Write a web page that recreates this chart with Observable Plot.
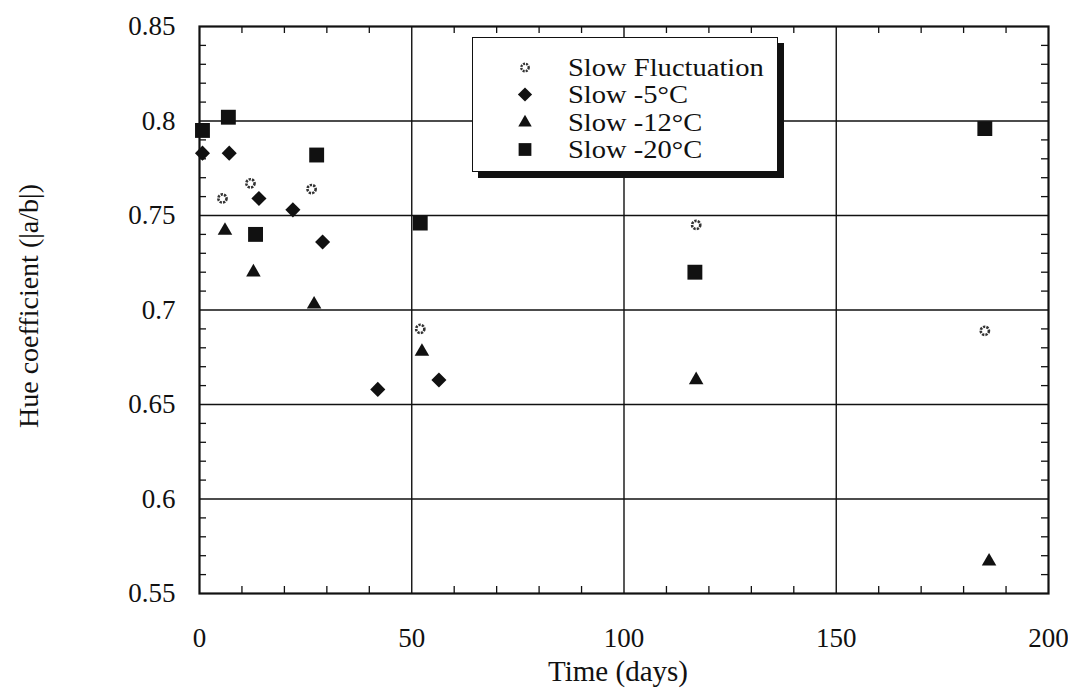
<!DOCTYPE html>
<html>
<head>
<meta charset="utf-8">
<script src="https://cdn.jsdelivr.net/npm/d3@7"></script>
<script src="https://cdn.jsdelivr.net/npm/@observablehq/plot@0.6"></script>
<style>
  html, body { margin: 0; padding: 0; background: #fff; }
  #wrap { position: relative; width: 1068px; height: 693px; overflow: hidden; }
  #legend {
    position: absolute; left: 472px; top: 37px; width: 304px; height: 133px;
    background: #fff; border: 1.5px solid #111; box-shadow: 6px 6px 0 #111;
    font-family: 'Liberation Serif', 'Times New Roman', serif; font-size: 24.4px; color: #111;
  }
  .row { position: absolute; left: 0; height: 27px; white-space: nowrap; }
  .row svg { position: absolute; left: 38px; top: 0; }
  .row span { position: absolute; display: block; left: 95px; top: 0; height: 27px; line-height: 27px;
              transform: scaleX(1.17); transform-origin: 0 50%; }
</style>
</head>
<body>
<div id="wrap"><div id="legend"></div></div>
<script>
// ---- data ----
const seriesNames = ["Slow Fluctuation", "Slow -5°C", "Slow -12°C", "Slow -20°C"];

const fluctDays = [5.4, 12, 26.4, 52, 117, 185];
const fluctHue  = [0.759, 0.767, 0.764, 0.690, 0.745, 0.689];

const m5Days = [0.7, 7, 14, 22, 29, 42, 56.4];
const m5Hue  = [0.783, 0.783, 0.759, 0.753, 0.736, 0.658, 0.663];

const m12Days = [6, 12.7, 27, 52.4, 117, 186];
const m12Hue  = [0.742, 0.720, 0.703, 0.678, 0.663, 0.567];

const m20Days = [0.7, 6.8, 13.2, 27.6, 52, 116.7, 185];
const m20Hue  = [0.795, 0.802, 0.740, 0.782, 0.746, 0.720, 0.796];

const xTicks = [0, 50, 100, 150, 200];
const xTickLabels = ["0", "50", "100", "150", "200"];
const yTicks = [0.55, 0.6, 0.65, 0.7, 0.75, 0.8, 0.85];
const yTickLabels = ["0.55", "0.6", "0.65", "0.7", "0.75", "0.8", "0.85"];
const xGrid = [50, 100, 150];
const yGrid = [0.6, 0.65, 0.7, 0.75, 0.8];
const xMinor = [10, 20, 30, 40, 60, 70, 80, 90, 110, 120, 130, 140, 160, 170, 180, 190];
const yMinor = [0.56, 0.57, 0.58, 0.59, 0.61, 0.62, 0.63, 0.64, 0.66, 0.67, 0.68, 0.69,
                0.71, 0.72, 0.73, 0.74, 0.76, 0.77, 0.78, 0.79, 0.81, 0.82, 0.83, 0.84];
const xTitle = "Time (days)";
const yTitle = "Hue coefficient (|a/b|)";

// ---- build tables ----
const toRows = (days, hue) => days.map((d, i) => ({day: d, hue: hue[i]}));
const fluct = toRows(fluctDays, fluctHue);
const m5 = toRows(m5Days, m5Hue);
const m12 = toRows(m12Days, m12Hue);
const m20 = toRows(m20Days, m20Hue);

const W = 1068, H = 693;
const mL = 199, mR = 20, mT = 26, mB = 100;
const FW = W - mL - mR, FH = H - mT - mB;
const ink = "#111";
const tickLen = 7;
const xLab = new Map(xTicks.map((t, i) => [t, xTickLabels[i]]));
const yLab = new Map(yTicks.map((t, i) => [t, yTickLabels[i]]));

const chart = Plot.plot({
  width: W, height: H,
  marginLeft: mL, marginRight: mR, marginTop: mT, marginBottom: mB,
  style: {fontFamily: "'Liberation Serif', 'Times New Roman', serif", fontSize: "27px", color: ink, background: "#fff"},
  x: {domain: [0, 200]},
  y: {domain: [0.55, 0.85]},
  marks: [
    Plot.ruleX(xGrid, {stroke: ink, strokeWidth: 1.4}),
    Plot.ruleY(yGrid, {stroke: ink, strokeWidth: 1.4}),
    Plot.tickX(xMinor, {x: d => d, insetTop: FH - tickLen, stroke: ink, strokeWidth: 1.3}),
    Plot.tickX(xMinor, {x: d => d, insetBottom: FH - tickLen, stroke: ink, strokeWidth: 1.3}),
    Plot.tickY(yMinor, {y: d => d, insetRight: FW - tickLen, stroke: ink, strokeWidth: 1.3}),
    Plot.tickY(yMinor, {y: d => d, insetLeft: FW - tickLen, stroke: ink, strokeWidth: 1.3}),
    Plot.frame({stroke: ink, strokeWidth: 2.2}),
    Plot.axisX({ticks: xTicks, tickSize: 0, tickPadding: 34, label: null, fontSize: 27, tickFormat: d => xLab.get(d)}),
    Plot.axisY({ticks: yTicks, tickSize: 0, tickPadding: 24, label: null, fontSize: 27, tickFormat: d => yLab.get(d)}),
    Plot.text([xTitle], {frameAnchor: "bottom", lineAnchor: "middle", textAnchor: "middle", dy: 78, dx: -6, fontSize: 29, fill: ink}),
    Plot.text([yTitle], {frameAnchor: "left", lineAnchor: "middle", textAnchor: "middle", dx: -170, dy: -4, rotate: -90, fontSize: 28, fill: ink}),
    // series
    Plot.dot(m20, {x: "day", y: "hue", symbol: "square", r: 8.4, fill: ink, stroke: null}),
    Plot.dot(m5, {x: "day", y: "hue", symbol: d3.symbolDiamond2, r: 6.8, fill: ink, stroke: null}),
    Plot.dot(m12, {x: "day", y: "hue", symbol: "triangle", r: 5.4, fill: ink, stroke: null}),
    Plot.dot(fluct, {x: "day", y: "hue", symbol: "circle", r: 4.1, fill: "#fff", stroke: "#333", strokeWidth: 2.6, strokeDasharray: "2.3,1.1"})
  ]
});
document.getElementById("wrap").prepend(chart);

// ---- legend ----
const legend = d3.select("#legend");
const legendSyms = [
  {name: seriesNames[0], type: d3.symbolCircle, r: 3.7, fill: "#fff", stroke: "#333", sw: 2.4, dash: "2,1"},
  {name: seriesNames[1], type: d3.symbolDiamond2, r: 6.4, fill: ink},
  {name: seriesNames[2], type: d3.symbolTriangle, r: 5.0, fill: ink},
  {name: seriesNames[3], type: d3.symbolSquare, r: 7.2, fill: ink}
];
const rowTops = [16, 43.3, 70.6, 97.9];
legendSyms.forEach((s, i) => {
  const row = legend.append("div").attr("class", "row").style("top", rowTops[i] + "px").style("width", "300px");
  const svg = row.append("svg").attr("width", 28).attr("height", 27);
  svg.append("path")
    .attr("transform", "translate(14,13.5)")
    .attr("d", d3.symbol().type(s.type).size(Math.PI * s.r * s.r)())
    .attr("fill", s.fill)
    .attr("stroke", s.stroke || "none")
    .attr("stroke-width", s.sw || 0)
    .attr("stroke-dasharray", s.dash || null);
  row.append("span").text(s.name);
});
</script>
</body>
</html>
